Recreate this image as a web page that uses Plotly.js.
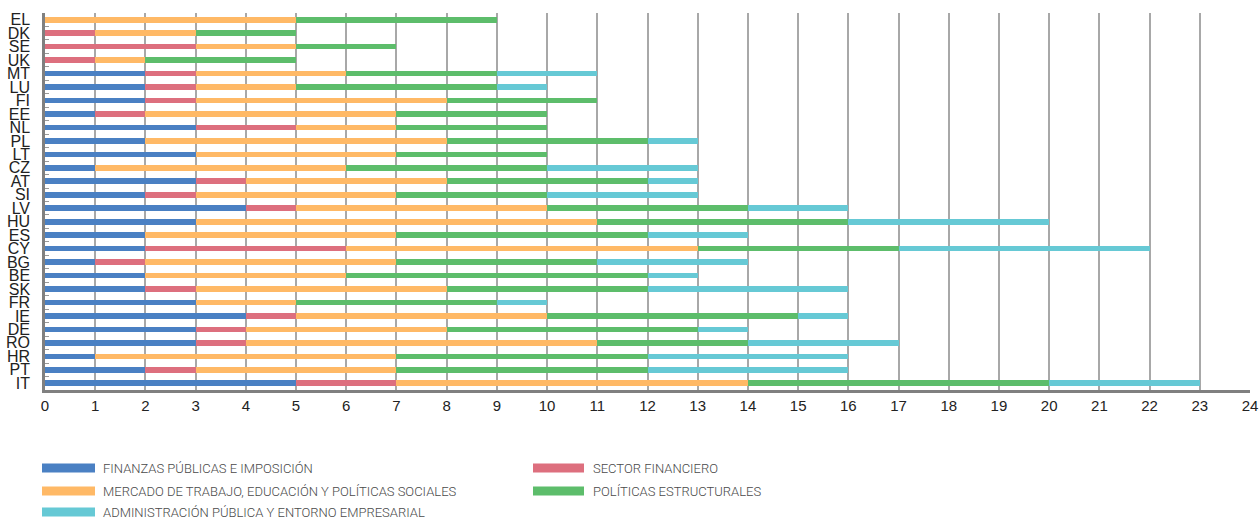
<!DOCTYPE html>
<html>
<head>
<meta charset="utf-8">
<script src="https://cdn.plot.ly/plotly-3.0.1.min.js"></script>
<style>
  html, body { margin: 0; padding: 0; background: #ffffff; }
  #chart { width: 1260px; height: 520px; }
</style>
</head>
<body>
<div id="chart"></div>
<script>
const countries = ["EL","DK","SE","UK","MT","LU","FI","EE","NL","PL","LT","CZ","AT","SI","LV","HU","ES","CY","BG","BE","SK","FR","IE","DE","RO","HR","PT","IT"];
const finanzas     = [0,0,0,0,2,2,2,1,3,2,3,1,3,2,4,3,2,2,1,2,2,3,4,3,3,1,2,5];
const sector       = [0,1,3,1,1,1,1,1,2,0,0,0,1,1,1,0,0,4,1,0,1,0,1,1,1,0,1,2];
const mercado      = [5,2,2,1,3,2,5,5,2,6,4,5,4,4,5,8,5,7,5,4,5,2,5,4,7,6,4,7];
const estructurales= [4,2,2,3,3,4,3,3,3,4,3,4,4,3,4,5,5,4,4,6,4,4,5,5,3,5,5,6];
const administracion=[0,0,0,0,2,1,0,0,0,1,0,3,1,3,2,4,2,5,3,1,4,1,1,1,3,4,4,3];
const xTicks = [0,1,2,3,4,5,6,7,8,9,10,11,12,13,14,15,16,17,18,19,20,21,22,23,24];

const seriesNames = [
  "FINANZAS PÚBLICAS E IMPOSICIÓN",
  "SECTOR FINANCIERO",
  "MERCADO DE TRABAJO, EDUCACIÓN Y POLÍTICAS SOCIALES",
  "POLÍTICAS ESTRUCTURALES",
  "ADMINISTRACIÓN PÚBLICA Y ENTORNO EMPRESARIAL"
];
const seriesValues = [finanzas, sector, mercado, estructurales, administracion];
const colors = ["#4a80c3", "#dd6f7e", "#ffb966", "#5dbd6b", "#66c9d5"];

const traces = seriesValues.map((vals, i) => ({
  type: "bar",
  orientation: "h",
  y: countries,
  x: vals,
  name: seriesNames[i],
  marker: { color: colors[i], line: { width: 0 } },
  hoverinfo: "x+y+name",
  showlegend: false
}));

// Manual legend (wide swatches) in paper coordinates
const W = 1205, L = 45, T = 13, H = 377;
const px = v => (v - L) / W;
const py = v => (T + H - v) / H;
const legendItems = [
  { col: 0, row: 0, idx: 0 },
  { col: 1, row: 0, idx: 1 },
  { col: 0, row: 1, idx: 2 },
  { col: 1, row: 1, idx: 3 },
  { col: 0, row: 2, idx: 4 }
];
const colX = [[42, 95, 101], [533, 584, 591]];
const rowY = [468, 491, 512];
const shapes = [];
const annotations = [];
legendItems.forEach(it => {
  const c = colX[it.col];
  const yy = rowY[it.row];
  shapes.push({
    type: "rect", xref: "paper", yref: "paper",
    x0: px(c[0]), x1: px(c[1]), y0: py(yy - 4.5), y1: py(yy + 4.5),
    fillcolor: colors[it.idx], line: { width: 0 }
  });
  annotations.push({
    xref: "paper", yref: "paper", x: px(c[2]), y: py(yy),
    xanchor: "left", yanchor: "middle", showarrow: false,
    text: seriesNames[it.idx],
    font: { family: "Roboto, Liberation Sans Narrow, Arial, sans-serif", size: 13, weight: 300, color: "#4a4a4a" }
  });
});

const layout = {
  width: 1260, height: 520,
  margin: { l: L, r: 1260 - L - W, t: T, b: 520 - T - H, pad: 0 },
  barmode: "stack",
  bargap: 0.58,
  paper_bgcolor: "#ffffff",
  plot_bgcolor: "#ffffff",
  showlegend: false,
  xaxis: {
    range: [0, 24],
    tickmode: "array",
    tickvals: xTicks,
    ticktext: xTicks.map(String),
    showgrid: true,
    gridcolor: "#a8a8a8",
    gridwidth: 1.5,
    zeroline: false,
    showline: true,
    linecolor: "#808080",
    linewidth: 2.5,
    ticks: "",
    tickfont: { family: "Liberation Sans, Arial, sans-serif", size: 15, color: "#222222" },
    fixedrange: true
  },
  yaxis: {
    type: "category",
    categoryorder: "array",
    categoryarray: countries,
    autorange: "reversed",
    tickmode: "array",
    tickvals: countries,
    ticktext: countries,
    showgrid: false,
    zeroline: false,
    showline: true,
    linecolor: "#808080",
    linewidth: 2.5,
    ticks: "inside",
    tickson: "boundaries",
    ticklen: 4,
    tickwidth: 1,
    tickcolor: "#999999",
    ticklabelstandoff: 9,
    tickfont: { family: "Liberation Sans, Arial, sans-serif", size: 16, color: "#222222" },
    fixedrange: true
  },
  shapes: shapes,
  annotations: annotations
};

Plotly.newPlot("chart", traces, layout, { displayModeBar: false, responsive: false });
</script>
</body>
</html>
